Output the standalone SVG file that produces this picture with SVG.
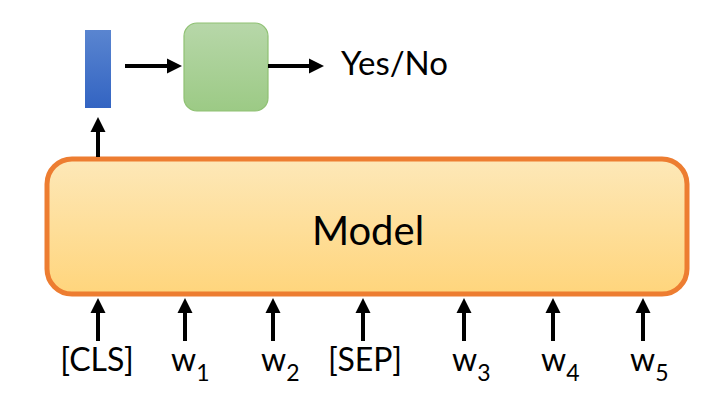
<svg xmlns="http://www.w3.org/2000/svg" width="703" height="413" viewBox="0 0 703 413">
<style>
.lbl{font-family:Lato,"Liberation Sans",sans-serif;font-size:32px;fill:#000}
.sub{font-size:23px}
.big{font-size:40px}
.yn{font-size:33px}
.conn{stroke:#000;stroke-width:4;fill:none;marker-end:url(#ah)}
</style>
<defs>
<marker id="ah" markerUnits="userSpaceOnUse" markerWidth="16" markerHeight="16" refX="4" refY="8" orient="auto">
<path d="M0,0.5 L15,8 L0,15.5 z" fill="#000"/>
</marker>
<linearGradient id="gb" x1="0" y1="0" x2="0" y2="1"><stop offset="0" stop-color="#5a85d0"/><stop offset="1" stop-color="#3364c2"/></linearGradient>
<linearGradient id="gg" x1="0" y1="0" x2="0" y2="1"><stop offset="0" stop-color="#b7d7a9"/><stop offset="1" stop-color="#9cca85"/></linearGradient>
<linearGradient id="go" x1="0" y1="0" x2="0" y2="1"><stop offset="0" stop-color="#fde8b8"/><stop offset="1" stop-color="#ffd57c"/></linearGradient>
</defs>
<g id="cls-vector"><rect x="85" y="30" width="26" height="78" fill="url(#gb)"/></g>
<g id="classifier"><rect x="184" y="23" width="84" height="88" rx="13" fill="url(#gg)" stroke="#8fc173" stroke-width="1.2"/></g>
<g id="output"><text class="lbl yn" x="341" y="75">Yes/No</text></g>
<g id="model"><rect x="47" y="159" width="640" height="135" rx="25" fill="url(#go)" stroke="#ed7d31" stroke-width="5"/>
<text class="lbl big" x="368" y="245" text-anchor="middle">Model</text></g>
<g id="inputs">
<text class="lbl" x="97" y="371" text-anchor="middle">[CLS]</text>
<text class="lbl" x="171" y="371">w<tspan class="sub" dy="10">1</tspan></text>
<text class="lbl" x="261" y="371">w<tspan class="sub" dy="10">2</tspan></text>
<text class="lbl" x="365" y="371" text-anchor="middle">[SEP]</text>
<text class="lbl" x="452" y="371">w<tspan class="sub" dy="10">3</tspan></text>
<text class="lbl" x="541" y="371">w<tspan class="sub" dy="10">4</tspan></text>
<text class="lbl" x="630" y="371">w<tspan class="sub" dy="10">5</tspan></text>
</g>
<g id="connectors">
<line class="conn" x1="125" y1="66" x2="171" y2="66"/>
<line class="conn" x1="268" y1="66" x2="313" y2="66"/>
<line class="conn" x1="98" y1="157" x2="98" y2="128"/>
<line class="conn" x1="98" y1="341" x2="98" y2="309"/>
<line class="conn" x1="185" y1="341" x2="185" y2="309"/>
<line class="conn" x1="273" y1="341" x2="273" y2="309"/>
<line class="conn" x1="363" y1="341" x2="363" y2="309"/>
<line class="conn" x1="464" y1="341" x2="464" y2="309"/>
<line class="conn" x1="553" y1="341" x2="553" y2="309"/>
<line class="conn" x1="643" y1="341" x2="643" y2="309"/>
</g>
</svg>
